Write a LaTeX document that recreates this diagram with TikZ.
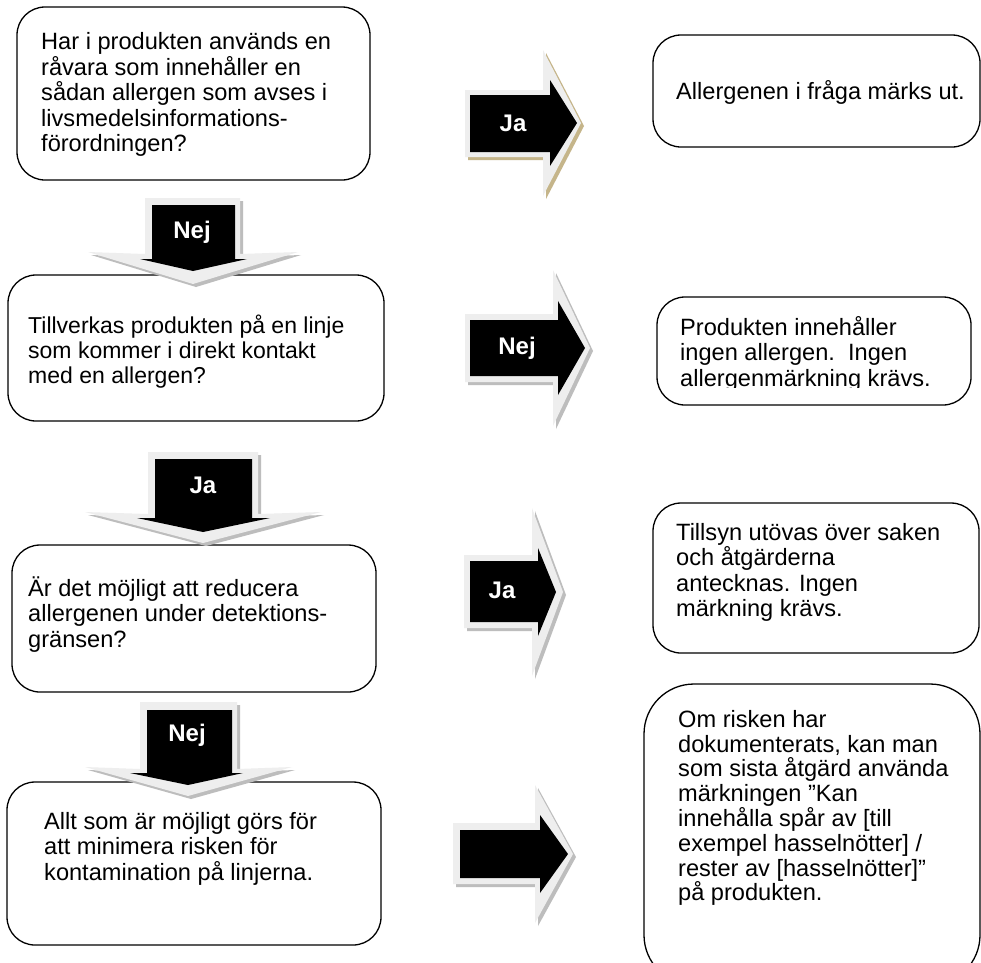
\documentclass[tikz,border=0pt]{standalone}
\usepackage{fontspec}
\setmainfont{Liberation Sans}
\definecolor{outergray}{HTML}{EEEEEE}
\definecolor{shadowgray}{HTML}{BDBDBD}
\definecolor{tanshadow}{HTML}{C5B58A}
\newcommand{\fs}{\rule{0pt}{20pt}}
\begin{document}
\begin{tikzpicture}[x=1pt,y=-1pt]
\tikzset{
 box/.style={draw=black, line width=1.3pt, rounded corners=28pt},
 bigbox/.style={draw=black, line width=1.3pt, rounded corners=50pt},
 txt/.style={anchor=north west, inner sep=0pt, align=left, font=\fontsize{23.6}{25.5}\selectfont},
 arrouter/.style={fill=outergray},
 arrshadow/.style={fill=shadowgray, shift={(3,3)}},
 arrinner/.style={fill=black},
 lbl/.style={text=white, font=\fontsize{24}{26}\selectfont\bfseries, inner sep=0pt}
}
\useasboundingbox (0,0) rectangle (981,962);
\fill[white] (0,0) rectangle (981,962);

% ---------- boxes ----------
\draw[box] (17,7) rectangle (370,180);
\node[txt] (t1) at (41,29.5) {\fs Har i produkten används en\\råvara som innehåller en\\sådan allergen som avses i\\livsmedelsinformations-\\förordningen?};

\draw[box] (653,35) rectangle (980,147);
\node[txt] (r1) at (676,79) {\fs Allergenen i fråga märks ut.};

\draw[box] (8,275) rectangle (384,421);
\node[txt, font=\fontsize{23}{25}\selectfont] (t2) at (28,313) {\fs Tillverkas produkten på en linje\\som kommer i direkt kontakt\\med en allergen?};

\draw[box] (657,297) rectangle (971,405);
\begin{scope}
\clip (600,290) rectangle (981,387.5);
\node[txt] (r2) at (680,315) {\fs Produkten innehåller\\ingen allergen.\ \ Ingen\\allergenmärkning krävs.};
\end{scope}

\draw[box] (12,545) rectangle (376,692);
\node[txt] (t3) at (28,576) {\fs Är det möjligt att reducera\\allergenen under detektions-\\gränsen?};

\draw[box] (653,503) rectangle (979,653);
\node[txt] (r3) at (676,520) {\fs Tillsyn utövas över saken\\och åtgärderna\\antecknas. Ingen\\märkning krävs.};

\draw[box] (7,782) rectangle (381,945);
\node[txt] (t4) at (44,809) {\fs Allt som är möjligt görs för\\att minimera risken för\\kontamination på linjerna.};

\draw[bigbox] (644,684) rectangle (980,985);
\node[txt, font=\fontsize{23.6}{24.8}\selectfont] (r4) at (678,707) {\fs Om risken har\\dokumenterats, kan man\\som sista åtgärd använda\\märkningen ”Kan\\innehålla spår av [till\\exempel hasselnötter] /\\rester av [hasselnötter]”\\på produkten.};

% ---------- right arrow 1 (Ja) ----------
\fill[fill=tanshadow, shift={(3,3)}] (465,90) -- (543,90) -- (543,50) -- (581,123) -- (543,196) -- (543,157) -- (465,157) -- cycle;
\fill[arrouter] (465,90) -- (543,90) -- (543,50) -- (581,123) -- (543,196) -- (543,157) -- (465,157) -- cycle;
\fill[arrinner] (470,95) -- (550,95) -- (550,80) -- (577,123) -- (550,166) -- (550,152) -- (470,152) -- cycle;
\node[lbl] (a1) at (513,123) {Ja};

% ---------- right arrow 2 (Nej) ----------
\fill[arrshadow] (465,314) -- (553,314) -- (553,270) -- (590,348) -- (553,426) -- (553,382) -- (465,382) -- cycle;
\fill[arrouter] (465,314) -- (553,314) -- (553,270) -- (590,348) -- (553,426) -- (553,382) -- (465,382) -- cycle;
\fill[arrinner] (470,320) -- (558,320) -- (558,301) -- (585,348) -- (558,395) -- (558,376) -- (470,376) -- cycle;
\node[lbl] (a2) at (517,348) {Nej};

% ---------- right arrow 3 (Ja) ----------
\fill[arrshadow] (464,555) -- (532,555) -- (532,508) -- (563,592) -- (532,676) -- (532,628) -- (464,628) -- cycle;
\fill[arrouter] (464,555) -- (532,555) -- (532,508) -- (563,592) -- (532,676) -- (532,628) -- (464,628) -- cycle;
\fill[arrinner] (470,561) -- (538,561) -- (538,548) -- (556,592) -- (538,636) -- (538,622) -- (470,622) -- cycle;
\node[lbl] (a3) at (502,590) {Ja};

% ---------- right arrow 4 ----------
\fill[arrshadow] (453,823) -- (535,823) -- (535,785) -- (573,854) -- (535,923) -- (535,884) -- (453,884) -- cycle;
\fill[arrouter] (453,823) -- (535,823) -- (535,785) -- (573,854) -- (535,923) -- (535,884) -- (453,884) -- cycle;
\fill[arrinner] (460,830) -- (540,830) -- (540,815) -- (568,854) -- (540,893) -- (540,878) -- (460,878) -- cycle;

% ---------- down arrow 1 (Nej) ----------
\fill[arrshadow] (145,198) -- (240,198) -- (240,254) -- (298,252) -- (193,284) -- (88,252) -- (145,254) -- cycle;
\fill[arrouter] (145,198) -- (240,198) -- (240,254) -- (298,252) -- (193,284) -- (88,252) -- (145,254) -- cycle;
\fill[arrinner] (152,205) -- (235,205) -- (235,259) -- (247,259) -- (193,271) -- (140,259) -- (152,259) -- cycle;
\node[lbl] (d1) at (192,232) {Nej};

% ---------- down arrow 2 (Ja) ----------
\fill[arrshadow] (148,452) -- (258,452) -- (258,514) -- (321,512) -- (203,543) -- (85,512) -- (148,514) -- cycle;
\fill[arrouter] (148,452) -- (258,452) -- (258,514) -- (321,512) -- (203,543) -- (85,512) -- (148,514) -- cycle;
\fill[arrinner] (155,459) -- (252,459) -- (252,518) -- (270,518) -- (203,532) -- (137,518) -- (155,518) -- cycle;
\node[lbl] (d2) at (203,485) {Ja};

% ---------- down arrow 3 (Nej) ----------
\fill[arrshadow] (140,702) -- (237,702) -- (237,769) -- (292,767) -- (188,796) -- (85,767) -- (140,769) -- cycle;
\fill[arrouter] (140,702) -- (237,702) -- (237,769) -- (292,767) -- (188,796) -- (85,767) -- (140,769) -- cycle;
\fill[arrinner] (147,710) -- (232,710) -- (232,773) -- (243,773) -- (188,785) -- (130,773) -- (147,773) -- cycle;
\node[lbl] (d3) at (187,735) {Nej};
\end{tikzpicture}
\end{document}
